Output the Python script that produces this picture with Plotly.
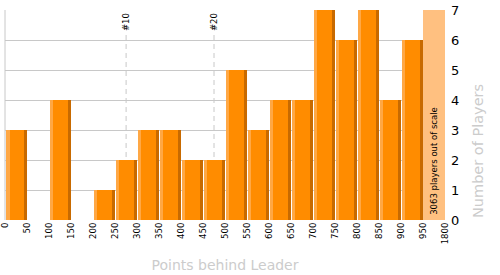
import plotly.graph_objects as go

# ---- data ----
bin_edges = [0, 50, 100, 150, 200, 250, 300, 350, 400, 450, 500, 550, 600, 650,
             700, 750, 800, 850, 900, 950]
counts = [3, 0, 4, 0, 1, 2, 3, 3, 2, 2, 5, 3, 4, 4, 7, 6, 7, 4, 6]
out_of_scale_players = 3063
out_of_scale_max = 1800
tick_labels = [str(v) for v in bin_edges] + [str(out_of_scale_max)]
ranks_marked = [10, 20]
y_max = 7

n = len(counts)
idx = list(range(n))

PX = 22.0  # pixels per bin (for strip proportions)
fig = go.Figure()

# main bar body
fig.add_trace(go.Bar(x=idx, y=counts, width=[20 / PX] * n, offset=1 / PX,
                     marker=dict(color="#FF8C00", line=dict(width=0)),
                     hoverinfo="skip"))
# light left strip
fig.add_trace(go.Bar(x=idx, y=counts, width=[3.3 / PX] * n, offset=1 / PX,
                     marker=dict(color="#FFA845", line=dict(width=0)),
                     hoverinfo="skip"))
# dark right strip
fig.add_trace(go.Bar(x=idx, y=counts, width=[3 / PX] * n, offset=19 / PX,
                     marker=dict(color="#C86A00", line=dict(width=0)),
                     hoverinfo="skip"))
# out-of-scale bar
fig.add_trace(go.Bar(x=[n], y=[y_max], width=[1.0], offset=0,
                     marker=dict(color="#FFC080", line=dict(width=0)),
                     hoverinfo="skip"))

fig.add_annotation(x=n + 0.5, y=0, xref="x", yref="y", text=f"{out_of_scale_players} players out of scale",
                   textangle=-90, showarrow=False, yanchor="bottom", xanchor="center", yshift=3,
                   font=dict(family="DejaVu Sans", size=8.5, color="#000000"))

# rank markers
cum = 0
for b, c in enumerate(counts):
    prev = cum
    cum += c
    for r in ranks_marked:
        if prev < r <= cum:
            xc = b + 0.5
            fig.add_shape(type="line", x0=xc, x1=xc, y0=0, y1=0.895, xref="x", yref="paper",
                          line=dict(color="#C8C8C8", width=1, dash="5px,4px"), layer="below")
            fig.add_annotation(x=xc, y=1, xref="x", yref="paper", text=f"#{r}", textangle=-90,
                               showarrow=False, yanchor="top", xanchor="center", yshift=-1,
                               font=dict(family="DejaVu Sans", size=8.5, color="#000000"))

# left border
fig.add_shape(type="line", x0=0, x1=0, y0=0, y1=1, xref="paper", yref="paper",
              line=dict(color="#C8C8C8", width=1), layer="below")

# y-axis title (bottom aligned)
fig.add_annotation(x=1, y=0, xref="paper", yref="paper", text="Number of Players", textangle=-90,
                   showarrow=False, xanchor="center", yanchor="bottom", xshift=33,
                   font=dict(family="DejaVu Sans", size=14.5, color="#CCCCCC"))

fig.update_layout(
    width=500, height=275,
    margin=dict(l=5, r=55, t=10, b=55),
    barmode="overlay",
    bargap=0,
    showlegend=False,
    paper_bgcolor="#FFFFFF",
    plot_bgcolor="#FFFFFF",
    font=dict(family="DejaVu Sans", color="#000000"),
    xaxis=dict(range=[-0.01, n + 1.01], tickmode="array", tickvals=list(range(n + 2)),
               ticktext=tick_labels, tickangle=-90, showgrid=False, zeroline=False,
               ticks="", ticklabeloverflow="allow", automargin=False,
               tickfont=dict(size=8.5, color="#000000", family="DejaVu Sans"),
               title=dict(text="Points behind Leader", standoff=16,
                          font=dict(size=14, color="#CCCCCC", family="DejaVu Sans"))),
    yaxis=dict(range=[0, y_max], side="right", dtick=1, showgrid=True, gridcolor="#C8C8C8",
               gridwidth=1, zeroline=False, ticks="", ticklabelstandoff=5, automargin=False,
               tickfont=dict(size=13, color="#000000", family="DejaVu Sans")),
)

fig.write_html("out.html")
